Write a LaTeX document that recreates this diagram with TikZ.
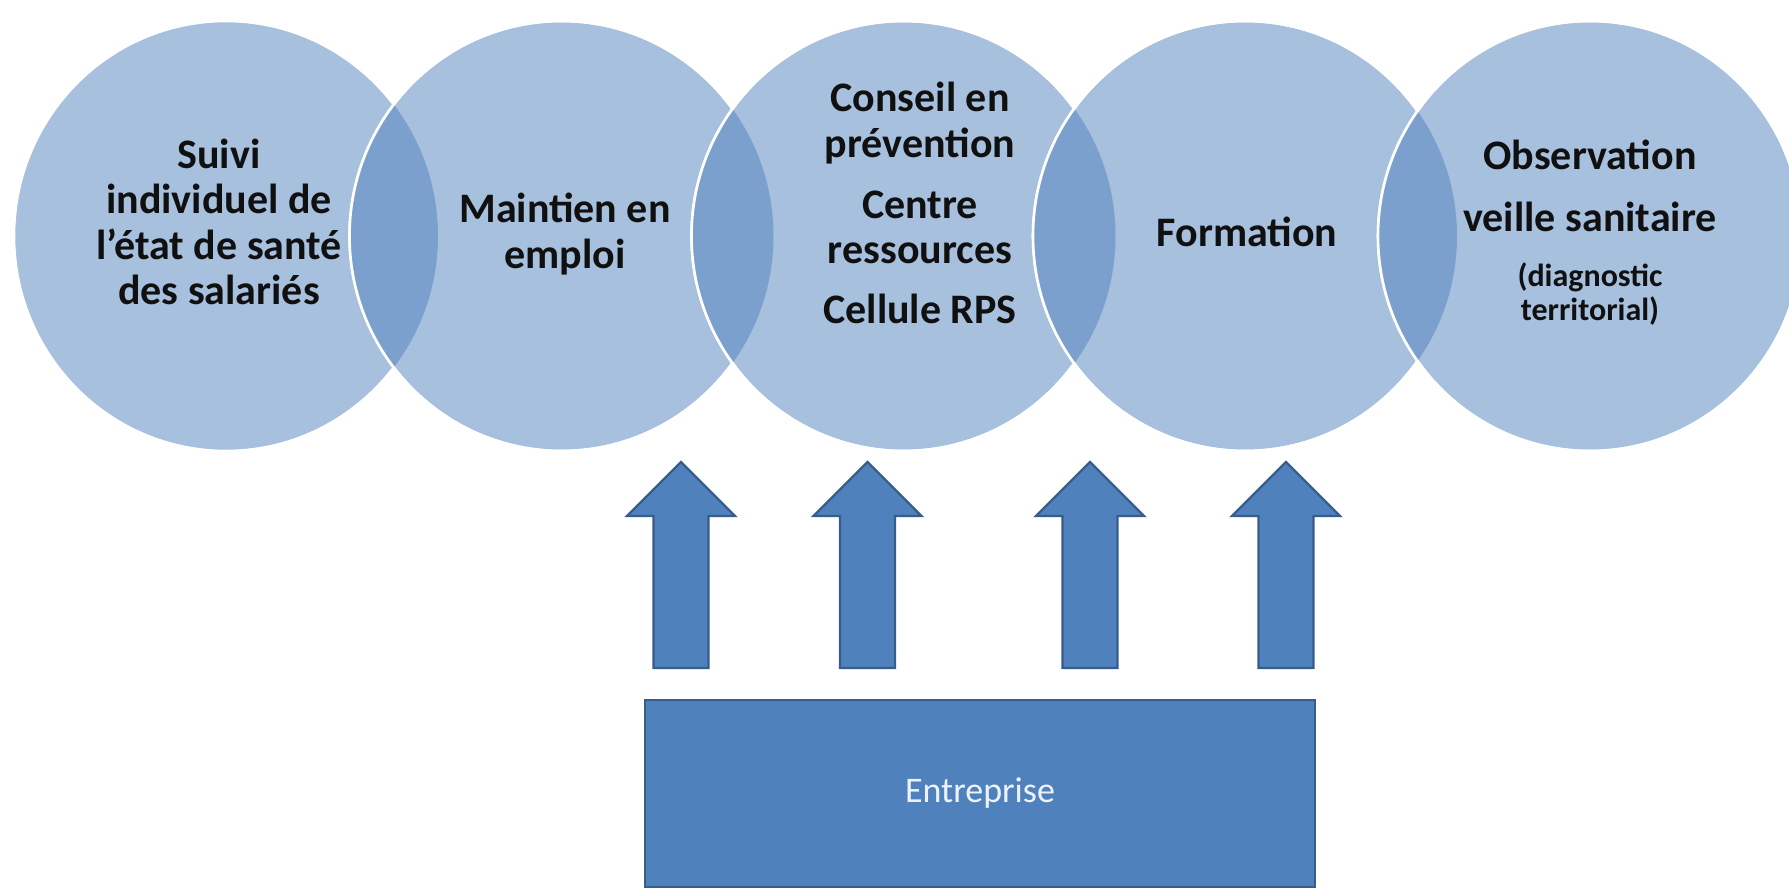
\documentclass[tikz,border=0pt]{standalone}
\usepackage{fontspec}
\setmainfont{Carlito}
\usetikzlibrary{shapes.geometric}
\definecolor{circfill}{HTML}{A7C0DE}
\definecolor{lensfill}{HTML}{7BA0CD}
\definecolor{accent}{HTML}{4F81BD}
\definecolor{accentdark}{HTML}{385D8A}
\definecolor{txt}{HTML}{101010}
\definecolor{enttxt}{HTML}{EEF3FA}
\tikzset{
  circ/.style={ellipse, minimum width=212pt, minimum height=215pt, inner sep=0pt, fill=circfill, draw=white, line width=1.3pt},
  ring/.style={draw=white, line width=1.3pt},
  lbl/.style={align=center, text=txt, font=\fontsize{21}{22.8}\selectfont\bfseries, inner sep=0pt},
  smalllbl/.style={align=center, text=txt, font=\fontsize{16}{17}\selectfont\bfseries, inner sep=0pt},
  entbox/.style={rectangle, fill=accent, draw=accentdark, line width=1.2pt, minimum width=335pt, minimum height=93.5pt, inner sep=0pt, text=enttxt, font=\fontsize{18}{20}\selectfont},
  blockarrow/.style={fill=accent, draw=accentdark, line width=1.1pt, line join=miter}
}
\begin{document}
\begin{tikzpicture}[x=0.5pt, y=-0.5pt]
\useasboundingbox (0,0) rectangle (1789,889);
\clip (0,0) rectangle (1789,889);
\fill[white] (0,0) rectangle (1789,889);
% circles and lenses
\node[circ] (c1) at (226,236) {};
\node[circ] (c2) at (561.5,236) {};
\begin{scope}
  \clip (c1.center) ellipse [x radius=106pt, y radius=107.5pt];
  \fill[lensfill] (c2.center) ellipse [x radius=106pt, y radius=107.5pt];
\end{scope}
\draw[ring] (c2.center) ellipse [x radius=106pt, y radius=107.5pt];
\node[circ] (c3) at (903.5,236) {};
\begin{scope}
  \clip (c2.center) ellipse [x radius=106pt, y radius=107.5pt];
  \fill[lensfill] (c3.center) ellipse [x radius=106pt, y radius=107.5pt];
\end{scope}
\draw[ring] (c3.center) ellipse [x radius=106pt, y radius=107.5pt];
\node[circ] (c4) at (1245,236) {};
\begin{scope}
  \clip (c3.center) ellipse [x radius=106pt, y radius=107.5pt];
  \fill[lensfill] (c4.center) ellipse [x radius=106pt, y radius=107.5pt];
\end{scope}
\draw[ring] (c4.center) ellipse [x radius=106pt, y radius=107.5pt];
\node[circ] (c5) at (1590,236) {};
\begin{scope}
  \clip (c4.center) ellipse [x radius=106pt, y radius=107.5pt];
  \fill[lensfill] (c5.center) ellipse [x radius=106pt, y radius=107.5pt];
\end{scope}
\draw[ring] (c5.center) ellipse [x radius=106pt, y radius=107.5pt];
% labels
\node[lbl] (t1) at (219,222) {Suivi\\individuel de\\l’état de santé\\des salariés};
\node[lbl] (t2) at (565,234) {Maintien en\\emploi};
\node[lbl] (t3) at (920,203) {Conseil en\\prévention\\[7.5pt]Centre\\ressources\\[7pt]Cellule RPS};
\node[lbl] (t4) at (1247,232) {Formation};
\node[lbl] (t5) at (1590,186) {Observation\\[8.5pt]veille sanitaire};
\node[smalllbl] (t5b) at (1590,294) {(diagnostic\\territorial)};
% arrows
\foreach \ax in {681,867.5,1090,1286}{
  \draw[blockarrow] (\ax-27.5,668) -- (\ax-27.5,516) -- (\ax-54,516) -- (\ax,462) -- (\ax+54,516) -- (\ax+27.5,516) -- (\ax+27.5,668) -- cycle;
}
% box
\node[entbox] (ent) at (980,793.5) {Entreprise};
\end{tikzpicture}
\end{document}
